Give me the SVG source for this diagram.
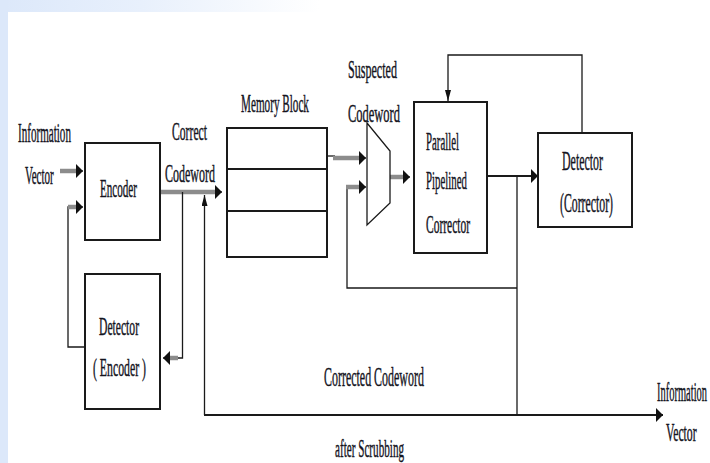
<svg xmlns="http://www.w3.org/2000/svg" width="710" height="463" viewBox="0 0 710 463">
<defs>
<linearGradient id="topband" x1="0" y1="0" x2="1" y2="0">
<stop offset="0" stop-color="#dce8fa"/>
<stop offset="0.2" stop-color="#e8f0fc"/>
<stop offset="0.45" stop-color="#ffffff"/>
</linearGradient>
<marker id="ah" markerUnits="userSpaceOnUse" markerWidth="8" markerHeight="15" refX="7" refY="7" orient="auto">
<path d="M0,0 L7,7 L0,14 z" fill="#111"/>
</marker>
<marker id="av" markerUnits="userSpaceOnUse" markerWidth="12" markerHeight="7" refX="11" refY="3" orient="auto">
<path d="M0,0 L11,3 L0,6 z" fill="#111"/>
</marker>
<style>
.box{fill:#fff;stroke:#1a1a1a;stroke-width:2}
.thin{fill:none;stroke:#1a1a1a;stroke-width:1.3}
.mid{fill:none;stroke:#1a1a1a;stroke-width:2}
.gray{fill:none;stroke:#8c8c8c;stroke-width:4.5}
.lbl{font-family:"Liberation Serif","Times New Roman",serif;fill:#14141e;stroke:#14141e;stroke-width:0.45}
</style>
</defs>
<rect x="0" y="0" width="710" height="463" fill="#fff"/>
<rect x="0" y="0" width="710" height="12" fill="url(#topband)"/>
<rect x="0" y="0" width="8" height="463" fill="#dce8fa"/>

<g id="connectors">
<line class="gray" x1="60" y1="171" x2="77" y2="171"/>
<line class="thin" x1="76" y1="171" x2="83" y2="171" marker-end="url(#ah)"/>
<polyline class="thin" points="85,347 68,347 68,207 76,207"/>
<line class="gray" x1="68" y1="207" x2="77" y2="207"/>
<line class="thin" x1="76" y1="207" x2="83" y2="207" marker-end="url(#ah)"/>
<line class="gray" x1="160" y1="192" x2="216" y2="192"/>
<line class="thin" x1="215" y1="192" x2="222" y2="192" marker-end="url(#ah)"/>
<polyline class="thin" points="182.5,192 182.5,358 176,358"/>
<line class="gray" x1="178" y1="358" x2="169" y2="358"/>
<line class="thin" x1="170" y1="358" x2="163" y2="358" marker-end="url(#ah)"/>
<line class="thin" x1="204.5" y1="415" x2="204.5" y2="195" marker-end="url(#av)"/>
<line class="mid" x1="204" y1="415" x2="663" y2="415" marker-end="url(#ah)"/>
<polyline class="thin" points="327,156 335,156"/>
<line class="gray" x1="333" y1="158" x2="360" y2="158"/>
<line class="thin" x1="359" y1="158" x2="366" y2="158" marker-end="url(#ah)"/>
<polyline class="thin" points="517,288 347,288 347,187"/>
<line class="gray" x1="346" y1="187" x2="360" y2="187"/>
<line class="thin" x1="359" y1="187" x2="366" y2="187" marker-end="url(#ah)"/>
<line class="gray" x1="390" y1="177" x2="404" y2="177"/>
<line class="thin" x1="403" y1="177" x2="410" y2="177" marker-end="url(#ah)"/>
<line class="mid" x1="487" y1="176" x2="538" y2="176" marker-end="url(#ah)"/>
<line class="thin" x1="517" y1="176" x2="517" y2="415"/>
<polyline class="thin" points="582,133 582,55 448,55 448,101" marker-end="url(#av)"/>
</g>

<g id="encoder">
<rect class="box" x="85" y="143" width="75" height="97"/>
<text class="lbl" transform="translate(100,197) scale(0.444,1)" font-size="25">Encoder</text>
</g>

<g id="detector-encoder">
<rect class="box" x="85" y="274" width="75" height="135"/>
<text class="lbl" transform="translate(99,335) scale(0.465,1)" font-size="25">Detector</text>
<text class="lbl" transform="translate(93,376) scale(0.453,1)" font-size="26">( Encoder )</text>
</g>

<g id="memory-block">
<rect class="box" x="227" y="128" width="100" height="129"/>
<line class="mid" x1="227" y1="169" x2="327" y2="169"/>
<line class="mid" x1="227" y1="211" x2="327" y2="211"/>
<text class="lbl" transform="translate(241,112) scale(0.430,1)" font-size="26">Memory Block</text>
</g>

<g id="mux">
<polygon points="367,123 390,151 390,203 367,225" fill="#fff" stroke="#1a1a1a" stroke-width="1.3"/>
</g>

<g id="parallel-corrector">
<rect class="box" x="414" y="102" width="73" height="151"/>
<text class="lbl" transform="translate(426,150) scale(0.416,1)" font-size="26">Parallel</text>
<text class="lbl" transform="translate(426,189) scale(0.417,1)" font-size="26">Pipelined</text>
<text class="lbl" transform="translate(426,233) scale(0.442,1)" font-size="26">Corrector</text>
</g>

<g id="detector-corrector">
<rect class="box" x="538" y="133" width="94" height="94"/>
<text class="lbl" transform="translate(562,170) scale(0.441,1)" font-size="27">Detector</text>
<text class="lbl" transform="translate(560,212) scale(0.437,1)" font-size="27">(Corrector)</text>
</g>

<g id="labels">
<text class="lbl" transform="translate(18,142) scale(0.411,1)" font-size="27">Information</text>
<text class="lbl" transform="translate(25,184) scale(0.424,1)" font-size="26">Vector</text>
<text class="lbl" transform="translate(172,140) scale(0.449,1)" font-size="26">Correct</text>
<text class="lbl" transform="translate(165,182) scale(0.462,1)" font-size="26">Codeword</text>
<text class="lbl" transform="translate(348,78) scale(0.465,1)" font-size="26">Suspected</text>
<text class="lbl" transform="translate(348,122) scale(0.480,1)" font-size="26">Codeword</text>
<text class="lbl" transform="translate(324,386) scale(0.427,1)" font-size="28">Corrected Codeword</text>
<text class="lbl" transform="translate(335,457) scale(0.429,1)" font-size="26">after Scrubbing</text>
<text class="lbl" transform="translate(657,401) scale(0.388,1)" font-size="27">Information</text>
<text class="lbl" transform="translate(666,441) scale(0.452,1)" font-size="26">Vector</text>
</g>
</svg>
